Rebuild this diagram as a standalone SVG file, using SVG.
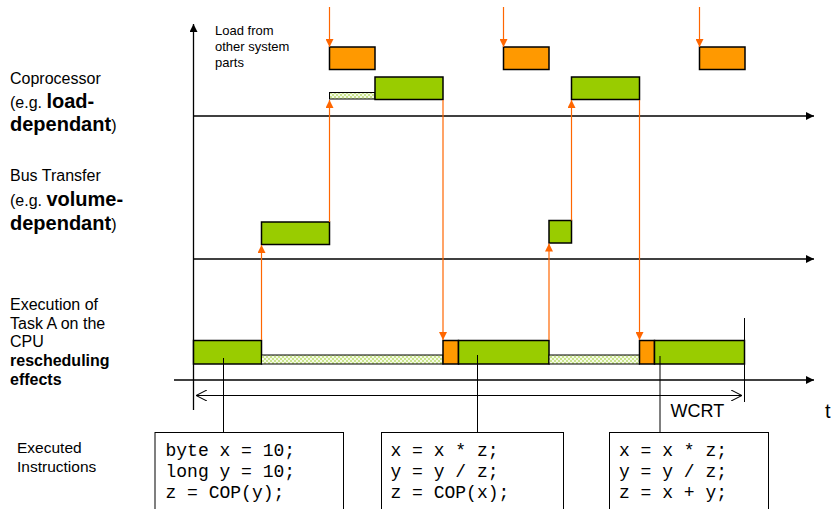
<svg xmlns="http://www.w3.org/2000/svg" width="833" height="509" viewBox="0 0 833 509">
  <style>
    .lbl { font-family: "Liberation Sans", Arial, sans-serif; fill: #000; }
    .std { font-size: 16px; }
    .big { font-size: 20px; font-weight: bold; }
    .b16 { font-size: 16px; font-weight: bold; }
    .small { font-size: 13px; }
    .code { font-family: "Liberation Mono", "Courier New", monospace; font-size: 18px; fill: #000; }
    .axis { stroke: #000; stroke-width: 1.3; fill: none; }
    .thin { stroke: #000; stroke-width: 1; fill: none; }
    .orange { fill: #FF9900; stroke: #000; stroke-width: 1.5; }
    .green { fill: #99CC00; stroke: #000; stroke-width: 1.5; }
    .wait { fill: url(#hatch); stroke: #000; stroke-width: 1; }
    .sig { stroke: #FF6600; stroke-width: 1.2; fill: none; }
    .box { fill: #fff; stroke: #000; stroke-width: 1; }
  </style>
  <defs>
    <marker id="ah" viewBox="0 0 10 10" refX="10" refY="5" markerWidth="8" markerHeight="8" markerUnits="userSpaceOnUse" orient="auto">
      <path d="M0,0 L10,5 L0,10 z" fill="#000"/>
    </marker>
    <marker id="sh" viewBox="0 0 10 10" refX="10" refY="5" markerWidth="8" markerHeight="8" markerUnits="userSpaceOnUse" orient="auto">
      <path d="M0,0 L10,5 L0,10 z" fill="#FF6600"/>
    </marker>
    <marker id="open" viewBox="0 0 10 10" refX="10" refY="5" markerWidth="11" markerHeight="11" markerUnits="userSpaceOnUse" orient="auto-start-reverse">
      <path d="M0,0 L10,5 L0,10" fill="none" stroke="#000" stroke-width="1"/>
    </marker>
    <pattern id="hatch" width="4" height="4" patternUnits="userSpaceOnUse">
      <rect width="4" height="4" fill="#C9E38C"/>
      <rect x="0" y="0" width="2" height="2" fill="#F4FAE6"/>
      <rect x="2" y="2" width="2" height="2" fill="#F4FAE6"/>
    </pattern>
  </defs>

  <!-- axes -->
  <g id="axes">
    <line class="axis" x1="193.5" y1="410" x2="193.5" y2="24" marker-end="url(#ah)"/>
    <line class="axis" x1="193.5" y1="116" x2="814" y2="116" marker-end="url(#ah)"/>
    <line class="axis" x1="193.5" y1="259" x2="814" y2="259" marker-end="url(#ah)"/>
    <line class="axis" x1="174" y1="380" x2="814" y2="380" marker-end="url(#ah)"/>
    <line class="thin" x1="744.5" y1="318" x2="744.5" y2="402"/>
    <line class="thin" x1="196" y1="395.5" x2="742" y2="395.5" marker-start="url(#open)" marker-end="url(#open)"/>
  </g>

  <!-- row labels -->
  <g id="labels">
    <text class="lbl std" x="10" y="84">Coprocessor</text>
    <text class="lbl std" x="10" y="107.5">(e.g. <tspan class="big">load-</tspan></text>
    <text class="lbl big" x="10" y="131">dependant<tspan style="font-size:16px;font-weight:normal">)</tspan></text>

    <text class="lbl std" x="10" y="181">Bus Transfer</text>
    <text class="lbl std" x="10" y="206">(e.g. <tspan class="big">volume-</tspan></text>
    <text class="lbl big" x="10" y="230">dependant<tspan style="font-size:16px;font-weight:normal">)</tspan></text>

    <text class="lbl std" x="10" y="310">Execution of</text>
    <text class="lbl std" x="10" y="328.5">Task A on the</text>
    <text class="lbl std" x="10" y="347">CPU</text>
    <text class="lbl b16" x="10" y="366">rescheduling</text>
    <text class="lbl b16" x="10" y="385">effects</text>

    <text class="lbl" style="font-size:15.5px" x="17" y="453">Executed</text>
    <text class="lbl" style="font-size:15.5px" x="17" y="472">Instructions</text>

    <text class="lbl small" x="215" y="35">Load from</text>
    <text class="lbl small" x="215" y="51">other system</text>
    <text class="lbl small" x="215" y="66.5">parts</text>

    <text class="lbl" style="font-size:18px" x="670.5" y="417">WCRT</text>
    <text class="lbl" style="font-size:20px" x="825" y="418">t</text>
  </g>

  <!-- coprocessor activity -->
  <g id="load1"><rect class="orange" x="329.5" y="47" width="45.5" height="22.5"/></g>
  <g id="load2"><rect class="orange" x="503.5" y="47" width="45.5" height="22.5"/></g>
  <g id="load3"><rect class="orange" x="699.5" y="47" width="45.5" height="22.5"/></g>
  <g id="cop-wait"><rect class="wait" x="329.5" y="92.5" width="45.5" height="6.5"/></g>
  <g id="cop1"><rect class="green" x="375" y="77" width="68" height="22.5"/></g>
  <g id="cop2"><rect class="green" x="571.5" y="77" width="68" height="22.5"/></g>

  <!-- bus transfers -->
  <g id="bus1"><rect class="green" x="261.5" y="222" width="68" height="22.5"/></g>
  <g id="bus2"><rect class="green" x="549" y="220.5" width="22.5" height="22.5"/></g>

  <!-- CPU execution of task A -->
  <g id="cpu1"><rect class="green" x="193.5" y="340.5" width="68" height="23.5"/></g>
  <g id="cpu-wait1"><rect class="wait" x="261.5" y="355" width="181.5" height="9"/></g>
  <g id="cpu-ctx1"><rect class="orange" x="443" y="340.5" width="15.5" height="23.5"/></g>
  <g id="cpu2"><rect class="green" x="458.5" y="340.5" width="90.5" height="23.5"/></g>
  <g id="cpu-wait2"><rect class="wait" x="549" y="355" width="90.5" height="9"/></g>
  <g id="cpu-ctx2"><rect class="orange" x="639.5" y="340.5" width="15" height="23.5"/></g>
  <g id="cpu3"><rect class="green" x="654.5" y="340.5" width="90" height="23.5"/></g>

  <!-- instruction listings -->
  <g id="code1">
    <rect class="box" x="155" y="432.5" width="188.5" height="90"/>
    <text class="code" x="165.5" y="455.5">byte x = 10;</text>
    <text class="code" x="165.5" y="476.5">long y = 10;</text>
    <text class="code" x="165.5" y="497.5">z = COP(y);</text>
  </g>
  <g id="code2">
    <rect class="box" x="381.5" y="432.5" width="182" height="90"/>
    <text class="code" x="390.5" y="455.5">x = x * z;</text>
    <text class="code" x="390.5" y="476.5">y = y / z;</text>
    <text class="code" x="390.5" y="497.5">z = COP(x);</text>
  </g>
  <g id="code3">
    <rect class="box" x="609.5" y="432.5" width="159" height="90"/>
    <text class="code" x="619" y="455.5">x = x * z;</text>
    <text class="code" x="619" y="476.5">y = y / z;</text>
    <text class="code" x="619" y="497.5">z = x + y;</text>
  </g>

  <!-- connectors -->
  <g id="connectors">
    <line class="sig" x1="329.5" y1="7" x2="329.5" y2="47" marker-end="url(#sh)"/>
    <line class="sig" x1="503.5" y1="7" x2="503.5" y2="47" marker-end="url(#sh)"/>
    <line class="sig" x1="699.5" y1="7" x2="699.5" y2="47" marker-end="url(#sh)"/>
    <line class="sig" x1="261.5" y1="340" x2="261.5" y2="245" marker-end="url(#sh)"/>
    <line class="sig" x1="329.5" y1="222" x2="329.5" y2="100" marker-end="url(#sh)"/>
    <line class="sig" x1="443" y1="100" x2="443" y2="340" marker-end="url(#sh)"/>
    <line class="sig" x1="549" y1="340" x2="549" y2="243.5" marker-end="url(#sh)"/>
    <line class="sig" x1="571.5" y1="220.5" x2="571.5" y2="100" marker-end="url(#sh)"/>
    <line class="sig" x1="639.5" y1="100" x2="639.5" y2="340" marker-end="url(#sh)"/>
    <line class="thin" x1="223.5" y1="358" x2="223.5" y2="432.5"/>
    <line class="thin" x1="477.5" y1="355" x2="477.5" y2="432.5"/>
    <line class="thin" x1="660" y1="356" x2="660" y2="432.5"/>
  </g>
</svg>
